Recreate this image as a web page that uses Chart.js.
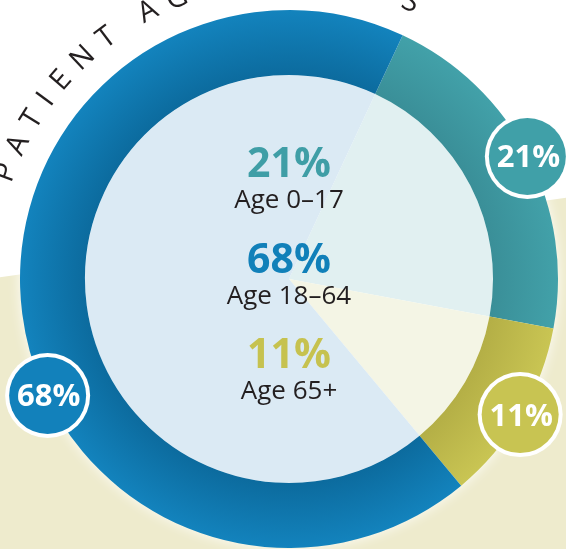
<!DOCTYPE html>
<html><head><meta charset="utf-8">
<script src="https://cdn.jsdelivr.net/npm/chart.js@4/dist/chart.umd.min.js"></script>
<style>html,body{margin:0;padding:0;background:#fff;overflow:hidden}#wrap{width:566px;height:549px;position:relative}</style>
</head><body><div id="wrap"><canvas id="c" width="566" height="549"></canvas></div>
<script>
// ---- data ----
const categories = ['Age 0–17', 'Age 65+', 'Age 18–64'];   // clockwise order of sectors
const shares = [21, 11, 68];
const percentLabels = ['21%', '11%', '68%'];
const centerOrder = [0, 2, 1];                              // order of the centre legend (by age)
const title = 'PATIENT AGE GROUPS';

// ---- style ----
const ringColors = [['#3a8f98', '#42a1a9'], ['#b4af46', '#c9c553'], ['#0c6b9e', '#1383bd']];
const fillColors = ['#e1f0f1', '#f4f5e5', '#dbeaf4'];
const accentColors = ['#3f9ea6', '#c6c24f', '#1180b9'];
const calloutColors = ['#40a0a8', '#c8c452', '#1281bb'];
const calloutPos = [0.5, 0.5, 0.425];
const FONT = '"Open Sans", "Noto Sans", sans-serif';

function geom(chart) {
  const a = chart.chartArea;
  const ctrl = chart.getDatasetMeta(0).controller;
  return {
    cx: (a.left + a.right) / 2 + (ctrl.offsetX || 0),
    cy: (a.top + a.bottom) / 2 + (ctrl.offsetY || 0),
    ro: ctrl.outerRadius, ri: ctrl.innerRadius
  };
}

function ringColor(ctx) {
  const chart = ctx.chart;
  const pair = ringColors[ctx.dataIndex];
  if (!chart.chartArea) return pair[1];
  const g = geom(chart);
  if (!g.ro) return pair[1];
  const grad = chart.ctx.createRadialGradient(g.cx, g.cy, g.ri, g.cx, g.cy, g.ro);
  grad.addColorStop(0, pair[0]);
  grad.addColorStop(1, pair[1]);
  return grad;
}

const decor = {
  id: 'decor',
  beforeDraw(chart) {
    const ctx = chart.ctx, W = chart.width, H = chart.height;
    ctx.save();
    ctx.fillStyle = '#ffffff';
    ctx.fillRect(0, 0, W, H);
    ctx.fillStyle = '#eeebcd';
    ctx.beginPath();
    ctx.moveTo(0, H * 0.505);
    ctx.lineTo(W, H * 0.36);
    ctx.lineTo(W, H);
    ctx.lineTo(0, H);
    ctx.closePath();
    ctx.fill();
    ctx.restore();
  },
  beforeDatasetsDraw(chart) {
    const ctx = chart.ctx, g = geom(chart);
    ctx.save();
    ctx.shadowColor = 'rgba(255,255,255,1)';
    ctx.shadowBlur = 14;
    ctx.fillStyle = '#ffffff';
    ctx.beginPath();
    ctx.arc(g.cx, g.cy, g.ro - 1, 0, Math.PI * 2);
    ctx.fill();
    ctx.restore();
  },
  afterDatasetsDraw(chart) {
    const ctx = chart.ctx, g = geom(chart);
    ctx.save();
    // centre legend
    ctx.textAlign = 'center';
    ctx.textBaseline = 'alphabetic';
    centerOrder.forEach((idx, k) => {
      const base = g.cy - 102 + k * 95.5;
      ctx.fillStyle = accentColors[idx];
      ctx.font = 'bold 41px ' + FONT;
      ctx.fillText(percentLabels[idx], g.cx, base);
      ctx.fillStyle = '#231f20';
      ctx.font = '26px ' + FONT;
      ctx.fillText(categories[idx], g.cx, base + 31);
    });
    // callouts
    const arcs = chart.getDatasetMeta(0).data;
    arcs.forEach((arc, i) => {
      const p = arc.getProps(['startAngle', 'endAngle', 'outerRadius'], true);
      const ang = p.startAngle + (p.endAngle - p.startAngle) * calloutPos[i];
      const r = p.outerRadius - 1;
      const x = g.cx + Math.cos(ang) * r, y = g.cy + Math.sin(ang) * r;
      ctx.fillStyle = '#ffffff';
      ctx.beginPath(); ctx.arc(x, y, 42.5, 0, Math.PI * 2); ctx.fill();
      ctx.fillStyle = calloutColors[i];
      ctx.beginPath(); ctx.arc(x, y, 38.5, 0, Math.PI * 2); ctx.fill();
      ctx.fillStyle = '#ffffff';
      ctx.font = 'bold 31px ' + FONT;
      ctx.textAlign = 'center';
      ctx.fillText(percentLabels[i], x + 1, y + 11);
    });
    // curved title
    ctx.font = '400 29px ' + FONT;
    ctx.fillStyle = '#231f20';
    ctx.textAlign = 'center';
    ctx.textBaseline = 'middle';
    const R = 302;
    const a0 = -69.4 * Math.PI / 180, a1 = 23.7 * Math.PI / 180;
    const chars = Array.from(title);
    const w = chars.map(c => ctx.measureText(c).width);
    let inner = 0;
    for (let i = 0; i < chars.length - 1; i++) inner += w[i] / 2 + w[i + 1] / 2;
    const arcLen = (a1 - a0) * R;
    const ls = (arcLen - inner) / (chars.length - 1);
    let s = 0;
    chars.forEach((c, i) => {
      if (i > 0) s += w[i - 1] / 2 + ls + w[i] / 2;
      const th = a0 + s / R;
      ctx.save();
      ctx.translate(g.cx + Math.sin(th) * R, g.cy - Math.cos(th) * R);
      ctx.rotate(th);
      ctx.fillText(c, 0, 0);
      ctx.restore();
    });
    ctx.restore();
  }
};

new Chart(document.getElementById('c'), {
  type: 'doughnut',
  data: {
    labels: categories,
    datasets: [
      { data: shares, backgroundColor: ringColor, borderWidth: 0, weight: 65 },
      { data: shares, backgroundColor: fillColors, borderWidth: 0, weight: 204 }
    ]
  },
  options: {
    responsive: false,
    animation: false,
    cutout: 0,
    rotation: 25,
    hoverOffset: 0,
    offset: 0,
    layout: { padding: { left: 20, right: 8, top: 10, bottom: 1 } },
    plugins: { legend: { display: false }, tooltip: { enabled: false } },
    events: []
  },
  plugins: [decor]
});
</script>
</body></html>
